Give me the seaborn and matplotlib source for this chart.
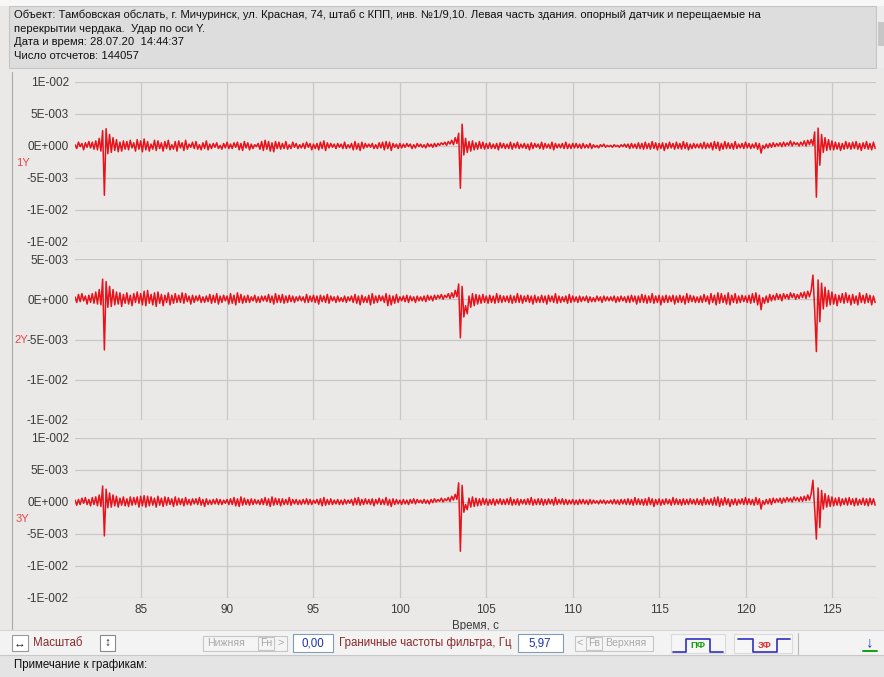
import numpy as np
import pandas as pd
import matplotlib
matplotlib.use("Agg")
import matplotlib.pyplot as plt
import seaborn as sns
from matplotlib.patches import Rectangle
from matplotlib.lines import Line2D

# ---------------- data ----------------
T0 = 81.2          # time of first sample, s
DT = 0.1           # sample step used for the read-off values, s
UNIT = 1e-4        # values below are in units of 1e-4

Y1 = [
    2, -4, 6, -1, 4, -6, 5, -2, 7, -3,
    6, -5, 8, -6, 12, -8, 24, -77, 27, -12,
    18, -10, 13, -7, 10, -9, 6, -8, 8, -5,
    7, -6, 9, -3, 5, -8, 10, -5, 8, -9,
    11, -6, 7, -8, 3, -5, 9, -7, 8, -4,
    5, -8, 7, -4, 9, -6, 2, -5, 7, -8,
    8, -3, 5, -7, 9, -5, 3, -2, 6, -4,
    7, -5, 2, -6, 5, -4, 8, -6, 3, -4,
    4, -2, 5, -4, 1, -5, 4, -3, 6, -4,
    3, -4, 5, -2, 6, -6, 4, -7, 7, -3,
    5, -6, 3, -4, 2, -1, 4, -5, 7, -7,
    9, -5, 7, -8, 5, -9, 7, -4, 6, -5,
    4, -4, 7, -5, 2, -4, 6, -2, 4, -4,
    2, -3, 4, -4, 6, -2, 4, -6, 3, -4,
    4, -6, 6, -4, 8, -7, 5, -3, 4, -2,
    3, -4, 4, -2, 3, -4, 6, -4, 2, -3,
    4, -6, 7, -5, 4, -7, 6, -4, 4, -2,
    3, -2, 4, -4, 2, -4, 5, -3, 6, -6,
    7, -4, 6, -7, 4, -2, 3, -4, 4, -3,
    3, -2, 4, -1, 3, -4, 2, -3, 4, -1,
    3, -2, 2, -3, 4, -1, 3, -2, 4, -1,
    4, 1, 5, 2, 6, 1, 7, 3, 9, 2,
    13, 4, 20, -66, 34, -14, 12, -10, 7, -8,
    8, -6, 5, -5, 7, -4, 6, -5, 4, -4,
    5, -4, 3, -4, 4, -6, 5, -3, 4, -4,
    3, -4, 6, -5, 4, -3, 6, -4, 3, -3,
    4, -4, 3, -6, 5, -4, 4, -2, 3, -4,
    6, -5, 4, -3, 3, -4, 6, -6, 4, -3,
    3, -3, 4, -4, 6, -4, 3, -4, 4, -3,
    4, -3, 3, -4, 4, -3, 2, -3, 4, -4,
    2, -2, 1, -3, 2, -1, 3, -2, 1, -1,
    1, -2, 2, -1, 1, -2, 2, -1, 3, -2,
    3, -4, 4, -3, 3, -4, 5, -4, 4, -5,
    6, -4, 4, -5, 7, -4, 5, -6, 4, -4,
    5, -7, 4, -4, 6, -3, 4, -5, 6, -4,
    4, -5, 7, -4, 5, -6, 3, -4, 4, -3,
    3, -3, 4, -4, 6, -4, 4, -3, 5, -6,
    7, -4, 6, -7, 4, -5, 7, -4, 5, -4,
    4, -5, 7, -4, 3, -3, 4, -4, 6, -3,
    4, -4, 3, -3, 5, -5, 4, -11, 1, -4,
    3, -3, 4, -2, 5, -1, 4, 0, 5, -1,
    6, 0, 5, 1, 8, 0, 6, 2, 5, 0,
    6, 1, 8, 0, 9, 2, 10, 1, 22, -80,
    28, -30, 18, -10, 13, -7, 10, -6, 8, -6,
    6, -5, 5, -7, 4, -5, 7, -4, 5, -5,
    6, -4, 7, -5, 4, -7, 5, -4, 7, -5,
    4, -6, 6, -4,
]

Y2 = [
    3, -4, 6, -3, 7, -2, 4, -6, 5, -4,
    7, -5, 9, -6, 12, -7, 25, -63, 22, -10,
    16, -9, 12, -7, 9, -6, 8, -9, 6, -5,
    8, -6, 5, -8, 7, -4, 9, -5, 7, -7,
    10, -8, 11, -5, 6, -7, 8, -9, 9, -5,
    6, -8, 5, -4, 8, -7, 5, -5, 7, -4,
    5, -4, 8, -5, 7, -3, 4, -6, 5, -4,
    4, -2, 5, -4, 3, -4, 4, -3, 6, -5,
    5, -4, 7, -6, 4, -4, 5, -2, 4, -6,
    7, -5, 5, -7, 8, -4, 6, -5, 4, -4,
    5, -4, 3, -2, 5, -4, 3, -4, 4, -2,
    4, -3, 6, -4, 4, -6, 7, -4, 5, -4,
    6, -5, 4, -4, 5, -3, 4, -4, 3, -2,
    4, -2, 3, -4, 6, -4, 4, -3, 5, -4,
    4, -6, 5, -3, 4, -4, 6, -5, 4, -2,
    3, -4, 4, -3, 2, -3, 4, -4, 3, -2,
    4, -4, 6, -5, 4, -7, 5, -4, 3, -4,
    5, -7, 7, -5, 4, -4, 5, -2, 4, -4,
    7, -8, 5, -7, 4, -5, 6, -4, 3, -2,
    4, -3, 5, -4, 4, -2, 3, -4, 4, -2,
    3, -2, 4, -3, 5, -1, 4, -2, 5, 0,
    5, 1, 6, 0, 5, 2, 7, 1, 8, 2,
    11, 3, 19, -48, 16, -22, -8, -18, 4, -10,
    7, -8, 6, -6, 5, -5, 6, -4, 4, -5,
    5, -4, 4, -5, 7, -4, 5, -4, 4, -3,
    4, -4, 5, -5, 4, -4, 7, -4, 5, -5,
    4, -3, 5, -4, 4, -6, 5, -4, 3, -4,
    5, -4, 4, -6, 5, -3, 4, -4, 7, -5,
    4, -4, 3, -3, 4, -5, 6, -4, 4, -3,
    3, -4, 4, -3, 3, -2, 4, -4, 3, -3,
    2, -3, 4, -2, 3, -4, 4, -2, 3, -2,
    3, -2, 4, -4, 3, -3, 4, -2, 3, -4,
    4, -4, 5, -3, 4, -6, 4, -4, 6, -4,
    5, -5, 4, -4, 7, -5, 4, -4, 5, -7,
    4, -4, 5, -4, 4, -3, 5, -6, 4, -4,
    5, -4, 4, -6, 7, -4, 5, -3, 4, -4,
    3, -4, 4, -4, 6, -3, 4, -6, 7, -4,
    5, -7, 8, -5, 7, -4, 5, -6, 8, -7,
    5, -4, 7, -5, 4, -4, 5, -3, 4, -4,
    5, -5, 7, -4, 8, -7, 5, -13, 2, -5,
    4, -4, 6, -2, 5, -1, 7, 0, 6, -2,
    7, 1, 6, 0, 8, 2, 7, 0, 6, 1,
    8, 2, 9, 1, 10, 3, 11, 30, -12, -65,
    24, -28, 20, -12, 15, -9, 11, -7, 9, -6,
    6, -8, 5, -4, 7, -5, 8, -4, 5, -7,
    6, -5, 4, -7, 8, -4, 5, -5, 7, -4,
    5, -7, 4, -4,
]

Y3 = [
    3, -5, 4, -4, 6, -2, 7, -4, 4, -6,
    7, -4, 8, -6, 11, -7, 25, -53, 20, -9,
    14, -8, 11, -6, 9, -8, 6, -5, 8, -6,
    5, -7, 8, -5, 7, -4, 8, -8, 9, -6,
    10, -8, 9, -6, 8, -5, 6, -8, 9, -5,
    6, -7, 8, -5, 7, -4, 5, -7, 8, -5,
    6, -4, 5, -6, 7, -4, 4, -5, 5, -3,
    5, -4, 7, -5, 4, -7, 5, -4, 3, -4,
    4, -3, 5, -4, 4, -4, 3, -2, 4, -4,
    5, -4, 7, -6, 5, -7, 8, -5, 6, -4,
    4, -5, 5, -4, 4, -3, 3, -4, 5, -4,
    7, -5, 5, -7, 8, -5, 6, -4, 5, -6,
    5, -4, 4, -4, 7, -5, 4, -3, 4, -4,
    3, -4, 4, -3, 5, -4, 4, -4, 3, -2,
    4, -4, 5, -6, 7, -5, 4, -4, 5, -4,
    3, -3, 4, -4, 3, -4, 4, -3, 3, -2,
    4, -5, 6, -4, 7, -5, 4, -4, 5, -3,
    4, -4, 5, -6, 4, -3, 6, -4, 4, -4,
    7, -5, 4, -7, 5, -4, 4, -3, 3, -4,
    4, -3, 3, -4, 4, -2, 5, -3, 4, -1,
    3, -2, 4, -2, 3, -3, 4, -1, 5, 0,
    4, 1, 6, 0, 5, 2, 7, 1, 9, 3,
    12, 4, 30, -77, 26, -16, -4, -12, 6, -8,
    8, -7, 6, -6, 5, -5, 6, -4, 5, -5,
    4, -4, 5, -5, 4, -3, 5, -4, 4, -4,
    5, -4, 7, -5, 4, -4, 5, -5, 4, -3,
    4, -4, 5, -4, 7, -5, 4, -4, 5, -4,
    5, -5, 4, -4, 5, -3, 4, -5, 7, -4,
    4, -3, 5, -4, 4, -4, 3, -3, 4, -4,
    3, -4, 4, -3, 4, -3, 3, -4, 4, -3,
    3, -2, 2, -3, 3, -2, 3, -3, 2, -2,
    3, -3, 4, -3, 3, -4, 4, -3, 4, -4,
    5, -4, 4, -5, 7, -4, 5, -4, 4, -5,
    5, -5, 7, -4, 5, -7, 4, -4, 5, -5,
    4, -4, 5, -3, 4, -5, 7, -4, 5, -4,
    4, -5, 5, -4, 4, -4, 5, -3, 4, -4,
    5, -4, 4, -5, 7, -4, 4, -4, 5, -5,
    7, -5, 8, -7, 5, -5, 7, -4, 5, -7,
    4, -4, 5, -5, 4, -3, 5, -4, 7, -4,
    5, -4, 4, -5, 7, -4, 5, -11, 2, -4,
    4, -3, 5, -4, 6, -1, 5, 0, 6, -2,
    6, 0, 7, 1, 6, 0, 8, 2, 7, 1,
    8, 1, 9, 2, 11, 3, 13, 34, -10, -58,
    22, -40, 18, -11, 13, -8, 10, -7, 8, -6,
    6, -5, 7, -6, 5, -4, 6, -5, 7, -4,
    5, -6, 6, -5, 4, -4, 6, -5, 5, -6,
    6, -4, 5, -5,
]

CHANNELS = ["1Y", "2Y", "3Y"]
X_TICKS = [85, 90, 95, 100, 105, 110, 115, 120, 125]
X_LIMITS = [81.2, 127.55]
Y_TICKS_A = [0.01, 0.005, 0.0, -0.005, -0.01, -0.015]
Y_LABELS_A = ["1E-002", "5E-003", "0E+000", "-5E-003", "-1E-002", "-1E-002"]
Y_TICKS_B = [0.005, 0.0, -0.005, -0.01, -0.015]
Y_LABELS_B = ["5E-003", "0E+000", "-5E-003", "-1E-002", "-1E-002"]

HEADER_LINES = [
    "Объект: Тамбовская обслать, г. Мичуринск, ул. Красная, 74, штаб с КПП, инв. №1/9,10. Левая часть здания. опорный датчик и перещаемые на",
    "перекрытии чердака.  Удар по оси Y.",
    "Дата и время: 28.07.20  14:44:37",
    "Число отсчетов: 144057",
]
X_LABEL = "Время, с"
NOTE = "Примечание к графикам:"
LOW_FREQ = "0,00"
HIGH_FREQ = "5,97"

# ---------------- style ----------------
sns.set_style("white")
plt.rcParams["font.family"] = ["Liberation Sans", "DejaVu Sans"]

W, H = 884, 677
BG = "#ebe8e8"
RED = "#e8121a"
GRID = "#c9c7c7"
TXT = "#3a3a3a"
FS_UI = 8.3

fig = plt.figure(figsize=(W / 100, H / 100), dpi=100, facecolor=BG)


def fx(x):
    return x / W


def fy(y):
    return 1 - y / H


def rect(x0, y0, x1, y1, fc, ec="none", lw=0.8, z=1):
    fig.add_artist(Rectangle((fx(x0), fy(y1)), fx(x1) - fx(x0), fy(y0) - fy(y1),
                             transform=fig.transFigure, facecolor=fc, edgecolor=ec,
                             linewidth=lw, zorder=z))


def line(xs, ys, color, lw=1.0, z=3):
    fig.add_artist(Line2D([fx(v) for v in xs], [fy(v) for v in ys],
                          transform=fig.transFigure, color=color, lw=lw, zorder=z))


# header
rect(0, 0, W, 6, "#f7f7f7")
rect(9, 6, 876, 68, "#dddddd", ec="#c4c4c4")
rect(877, 6, W, 68, "#ececec")
rect(878, 22, 884, 46, "#c6c6c6")
for i, txt in enumerate(HEADER_LINES):
    fig.text(fx(14), fy(15 + 13.6 * i), txt, fontsize=8.1, color="#111111",
             va="center", ha="left")

# left border of the chart window
line([12, 12], [72, 630], "#a9a9a9", lw=0.8)

# ---------------- panels ----------------
panels = [
    (82, 242, Y1, Y_TICKS_A, Y_LABELS_A, (-0.015, 0.01)),
    (259, 420, Y2, Y_TICKS_B, Y_LABELS_B, (-0.015, 0.005)),
    (438, 598, Y3, Y_TICKS_A, Y_LABELS_A, (-0.015, 0.01)),
]
axes = []
for k, (top, bot, vals, yt, yl, ylim) in enumerate(panels):
    ax = fig.add_axes([fx(75), fy(bot), fx(876) - fx(75), fy(top) - fy(bot)])
    ax.set_facecolor(BG)
    v = np.asarray(vals, dtype=float) * UNIT
    t = T0 + DT * np.arange(len(v))
    df = pd.DataFrame({"t": t, "v": v})
    sns.lineplot(data=df, x="t", y="v", ax=ax, color=RED, linewidth=1.1,
                 estimator=None, sort=False, legend=False)
    ax.set_xlim(*X_LIMITS)
    ax.set_ylim(*ylim)
    ax.set_yticks(yt)
    ax.set_yticklabels(yl)
    ax.set_xticks(X_TICKS)
    ax.grid(True, color=GRID, linewidth=0.9)
    ax.set_axisbelow(True)
    for s in ax.spines.values():
        s.set_visible(False)
    ax.tick_params(axis="both", length=0, labelsize=8.5, labelcolor=TXT, pad=4.5)
    ax.set_xlabel("")
    ax.set_ylabel("")
    if k < 2:
        ax.set_xticklabels([])
    axes.append(ax)

axes[2].set_xlabel(X_LABEL, fontsize=FS_UI, color=TXT, labelpad=3)

# channel labels
for lab, xpx, ypx in zip(CHANNELS, [16, 14, 16], [163, 340, 519]):
    fig.text(fx(xpx), fy(ypx), lab, fontsize=8, color="#e04848", va="center", ha="left")

# ---------------- tool bar & note bar ----------------
rect(0, 630, W, 655, "#f3f3f3")
line([0, W], [630, 630], "#d6d6d6", lw=0.8)
rect(0, 655, W, H, "#e4e4e4")
line([0, W], [655, 655], "#c8c8c8", lw=0.8)
fig.text(fx(14), fy(665), NOTE, fontsize=FS_UI, color="#111111", va="center")

TB = 643
DARKRED = "#8a2a2a"
GREYT = "#a9a9a9"
BLUE = "#1c2fb0"

rect(12, 635, 28, 651, "white", ec="#9a9a9a")
fig.text(fx(20), fy(TB), "↔", fontsize=8.5, color="#222222", ha="center", va="center")
fig.text(fx(33), fy(TB), "Масштаб", fontsize=FS_UI, color=DARKRED, va="center")
rect(100, 635, 115, 651, "white", ec="#8a8a8a")
fig.text(fx(107.5), fy(TB), "↕", fontsize=8.5, color="#222222", ha="center", va="center")

rect(203, 636, 287, 651, "#f5f5f5", ec="#c6c6c6")
fig.text(fx(207), fy(TB), "Нижняя", fontsize=7.6, color=GREYT, va="center")
rect(258, 637, 274, 650, "none", ec="#c6c6c6")
fig.text(fx(266), fy(TB), "Fн", fontsize=7.6, color=GREYT, va="center", ha="center")
fig.text(fx(281), fy(TB), ">", fontsize=8, color=GREYT, va="center", ha="center")

rect(293, 634, 333, 652, "white", ec="#7f9db9")
fig.text(fx(313), fy(TB), LOW_FREQ, fontsize=FS_UI, color=BLUE, va="center", ha="center")
fig.text(fx(339), fy(TB), "Граничные частоты фильтра, Гц", fontsize=FS_UI, color=DARKRED,
         va="center")
rect(518, 634, 563, 652, "white", ec="#7f9db9")
fig.text(fx(540), fy(TB), HIGH_FREQ, fontsize=FS_UI, color=BLUE, va="center", ha="center")

rect(575, 636, 653, 651, "#f5f5f5", ec="#c6c6c6")
fig.text(fx(580), fy(TB), "<", fontsize=8, color=GREYT, va="center", ha="center")
rect(586, 637, 602, 650, "none", ec="#c6c6c6")
fig.text(fx(594), fy(TB), "Fв", fontsize=7.6, color=GREYT, va="center", ha="center")
fig.text(fx(605), fy(TB), "Верхняя", fontsize=7.6, color=GREYT, va="center")

# pass-band icon
rect(671, 634, 725, 653, "#f6f6f6", ec="#dadada")
line([673, 686, 686, 710, 710, 723], [652, 652, 639, 639, 652, 652], "#3030c0", lw=1.2)
fig.text(fx(698), fy(645.5), "ПФ", fontsize=6.8, color="#12a012", ha="center", va="center",
         weight="bold")
# stop-band icon
rect(734, 634, 792, 653, "#f6f6f6", ec="#dadada")
line([738, 753, 753, 777, 777, 790], [639, 639, 652, 652, 639, 639], "#3030c0", lw=1.2)
fig.text(fx(765), fy(645.5), "ЗФ", fontsize=6.8, color="#e03030", ha="center", va="center",
         weight="bold")
line([798, 798], [633, 654], "#b8b8b8", lw=0.8)
# download arrow
fig.text(fx(870), fy(642), "↓", fontsize=11, color="#2040c0", ha="center", va="center",
         weight="bold")
line([863, 877], [651, 651], "#10a010", lw=1.4)

fig.savefig("out.png", dpi=100, facecolor=BG)
